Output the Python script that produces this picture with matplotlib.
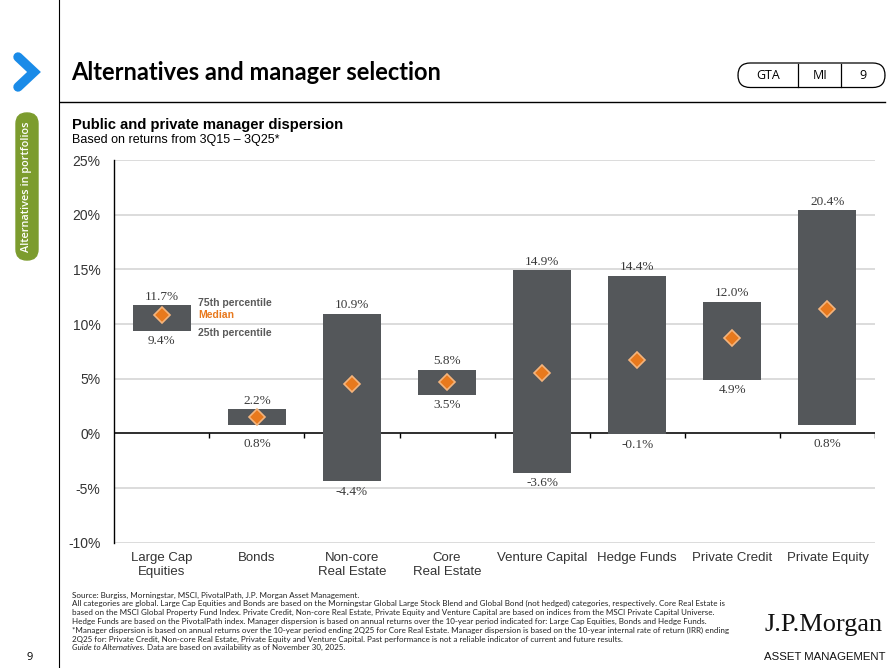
import matplotlib
matplotlib.use("Agg")
import matplotlib.pyplot as plt
from matplotlib.patches import FancyBboxPatch
import numpy as np

# chart data (percent)
categories = ["Large Cap\nEquities", "Bonds", "Non-core\nReal Estate", "Core\nReal Estate",
              "Venture Capital", "Hedge Funds", "Private Credit", "Private Equity"]
p75 = [11.7, 2.2, 10.9, 5.8, 14.9, 14.4, 12.0, 20.4]
p25 = [9.4, 0.8, -4.4, 3.5, -3.6, -0.1, 4.9, 0.8]
median = [10.8, 1.5, 4.5, 4.7, 5.5, 6.7, 8.7, 11.4]
yticks = [-10, -5, 0, 5, 10, 15, 20, 25]

footnotes = [
    "Source: Burgiss, Morningstar, MSCI, PivotalPath, J.P. Morgan Asset Management.",
    "All categories are global. Large Cap Equities and Bonds are based on the Morningstar Global Large Stock Blend and Global Bond (not hedged) categories, respectively. Core Real Estate is",
    "based on the MSCI Global Property Fund Index. Private Credit, Non-core Real Estate, Private Equity and Venture Capital are based on indices from the MSCI Private Capital Universe.",
    "Hedge Funds are based on the PivotalPath index. Manager dispersion is based on annual returns over the 10-year period indicated for: Large Cap Equities, Bonds and Hedge Funds.",
    "*Manager dispersion is based on annual returns over the 10-year period ending 2Q25 for Core Real Estate. Manager dispersion is based on the 10-year internal rate of return (IRR) ending",
    "2Q25 for: Private Credit, Non-core Real Estate, Private Equity and Venture Capital. Past performance is not a reliable indicator of current and future results.",
]

BAR = "#54575A"
ORANGE = "#E8791D"
TXT = "#333333"

W, H = 895, 668
fig = plt.figure(figsize=(W / 100, H / 100), dpi=100)


def fx(x):
    return x / W


def fy(y):
    return 1 - y / H


# page furniture
fig.add_artist(plt.Line2D([fx(59), fx(59)], [0, 1], color="black", lw=0.8))
fig.add_artist(plt.Line2D([fx(60), fx(885)], [fy(101.5), fy(101.5)], color="black", lw=1.0))
fig.add_artist(plt.Line2D([fx(18), fx(34), fx(18)], [fy(57), fy(72), fy(87)], color="#1A8BE8",
                          lw=6.8, solid_capstyle="round", solid_joinstyle="miter"))
fig.add_artist(FancyBboxPatch((fx(16), fy(260)), fx(22), fy(113) - fy(260),
                              boxstyle="round,pad=0,rounding_size=0.012",
                              color="#7C9C2E", mutation_aspect=W / H))
fig.text(fx(27), fy(187), "Alternatives in portfolios", rotation=90, color="white",
         ha="center", va="center", fontsize=7.8, family="Open Sans", weight="semibold")
fig.text(fx(30), fy(657), "9", ha="center", va="center", fontsize=8, family="Open Sans")

# top right tag
fig.add_artist(FancyBboxPatch((fx(738), fy(87.5)), fx(147), fy(63) - fy(87.5),
                              boxstyle="round,pad=0,rounding_size=0.0137",
                              fc="white", ec="black", lw=0.9, mutation_aspect=W / H))
for xd in (798, 841):
    fig.add_artist(plt.Line2D([fx(xd), fx(xd)], [fy(63.5), fy(87)], color="black", lw=0.9))
for xt, t in ((768, "GTA"), (820, "MI"), (863, "9")):
    fig.text(fx(xt), fy(75.5), t, ha="center", va="center", fontsize=9, family="Open Sans")

fig.text(fx(71), fy(72.5), "Alternatives and manager selection", ha="left", va="center",
         fontsize=17, weight="bold", family="Lato")
fig.text(fx(72), fy(125), "Public and private manager dispersion", ha="left", va="center",
         fontsize=10.6, weight="bold", family="Liberation Sans")
fig.text(fx(72), fy(140), "Based on returns from 3Q15 \u2013 3Q25*", ha="left", va="center",
         fontsize=9, family="Liberation Sans")

# chart
ax = fig.add_axes([fx(114.3), fy(542.7), fx(875) - fx(114.3), fy(160) - fy(542.7)])
x = np.arange(len(categories))
lo = np.array(p25)
hi = np.array(p75)
ax.bar(x, hi - lo, bottom=lo, width=0.61, color=BAR, zorder=3)
ax.plot(x, median, ls="none", marker="D", ms=8.6, mfc=ORANGE, mec="#F4B47C", mew=1.2, zorder=4)

for i in range(len(categories)):
    ax.annotate(f"{p75[i]:.1f}%", (x[i], p75[i]), xytext=(0, 2), textcoords="offset points",
                ha="center", va="bottom", fontsize=9.5, family="Liberation Serif", color="#3A3A3A")
    # low labels sitting just above zero are pushed under the axis line
    base = 0 if 0 < p25[i] < 1.5 else p25[i]
    ax.annotate(f"{p25[i]:.1f}%", (x[i], base), xytext=(0, -3), textcoords="offset points",
                ha="center", va="top", fontsize=9.5, family="Liberation Serif", color="#3A3A3A")

lx = x[0] + 0.61 / 2 + 0.08
ax.annotate("75th percentile", (lx, p75[0]), xytext=(0, 2), textcoords="offset points",
            ha="left", va="center", fontsize=7.5, weight="bold", color="#595959", family="Liberation Sans")
ax.annotate("Median", (lx, median[0]), ha="left", va="center", fontsize=7.5, weight="bold",
            color=ORANGE, family="Liberation Sans")
ax.annotate("25th percentile", (lx, p25[0]), xytext=(0, -2), textcoords="offset points",
            ha="left", va="center", fontsize=7.5, weight="bold", color="#595959", family="Liberation Sans")

ax.set_xlim(-0.5, len(categories) - 0.5)
ax.set_ylim(yticks[0], yticks[-1])
ax.set_yticks(yticks)
ax.set_yticklabels([f"{v}%" for v in yticks], family="Liberation Sans", fontsize=10, color=TXT)
ax.set_xticks(x)
ax.set_xticklabels(categories, family="Liberation Sans", fontsize=9.5, color=TXT, linespacing=1.2)
ax.tick_params(axis="both", length=0)
ax.tick_params(axis="y", pad=10)
ax.tick_params(axis="x", pad=7)
ax.grid(axis="y", color="#D9D9D9", lw=1.3, zorder=0)
for s in ("top", "right", "bottom"):
    ax.spines[s].set_visible(False)
ax.spines["left"].set_color("black")
ax.spines["left"].set_linewidth(1.0)
ax.axhline(0, color="black", lw=1.1, zorder=2)
bounds = np.arange(len(categories) + 1) - 0.5
ax.vlines(bounds[1:], -0.45, 0, color="black", lw=1.0, zorder=2)

# footnotes
fy0 = 595
fs = 5.8
for k, line in enumerate(footnotes):
    fig.text(fx(72), fy(fy0 + k * 8.8), line, ha="left", va="center", fontsize=fs,
             family="Lato", color="#222222")
t = fig.text(fx(72), fy(fy0 + 6 * 8.8), "Guide to Alternatives.", ha="left", va="center",
             fontsize=fs, family="Lato", style="italic", color="#222222")
fig.canvas.draw()
bb = t.get_window_extent()
fig.text(bb.x1 / W + fx(2), fy(fy0 + 6 * 8.8),
         "Data are based on availability as of November 30, 2025.", ha="left", va="center",
         fontsize=fs, family="Lato", color="#222222")

fig.text(fx(824), fy(625), "J.P.Morgan", ha="center", va="center", fontsize=19,
         family="Liberation Serif", color="#111111")
fig.text(fx(824.5), fy(657), "ASSET MANAGEMENT", ha="center", va="center", fontsize=8.2,
         family="Liberation Sans", color="#111111")

fig.savefig("out.png", dpi=100)
